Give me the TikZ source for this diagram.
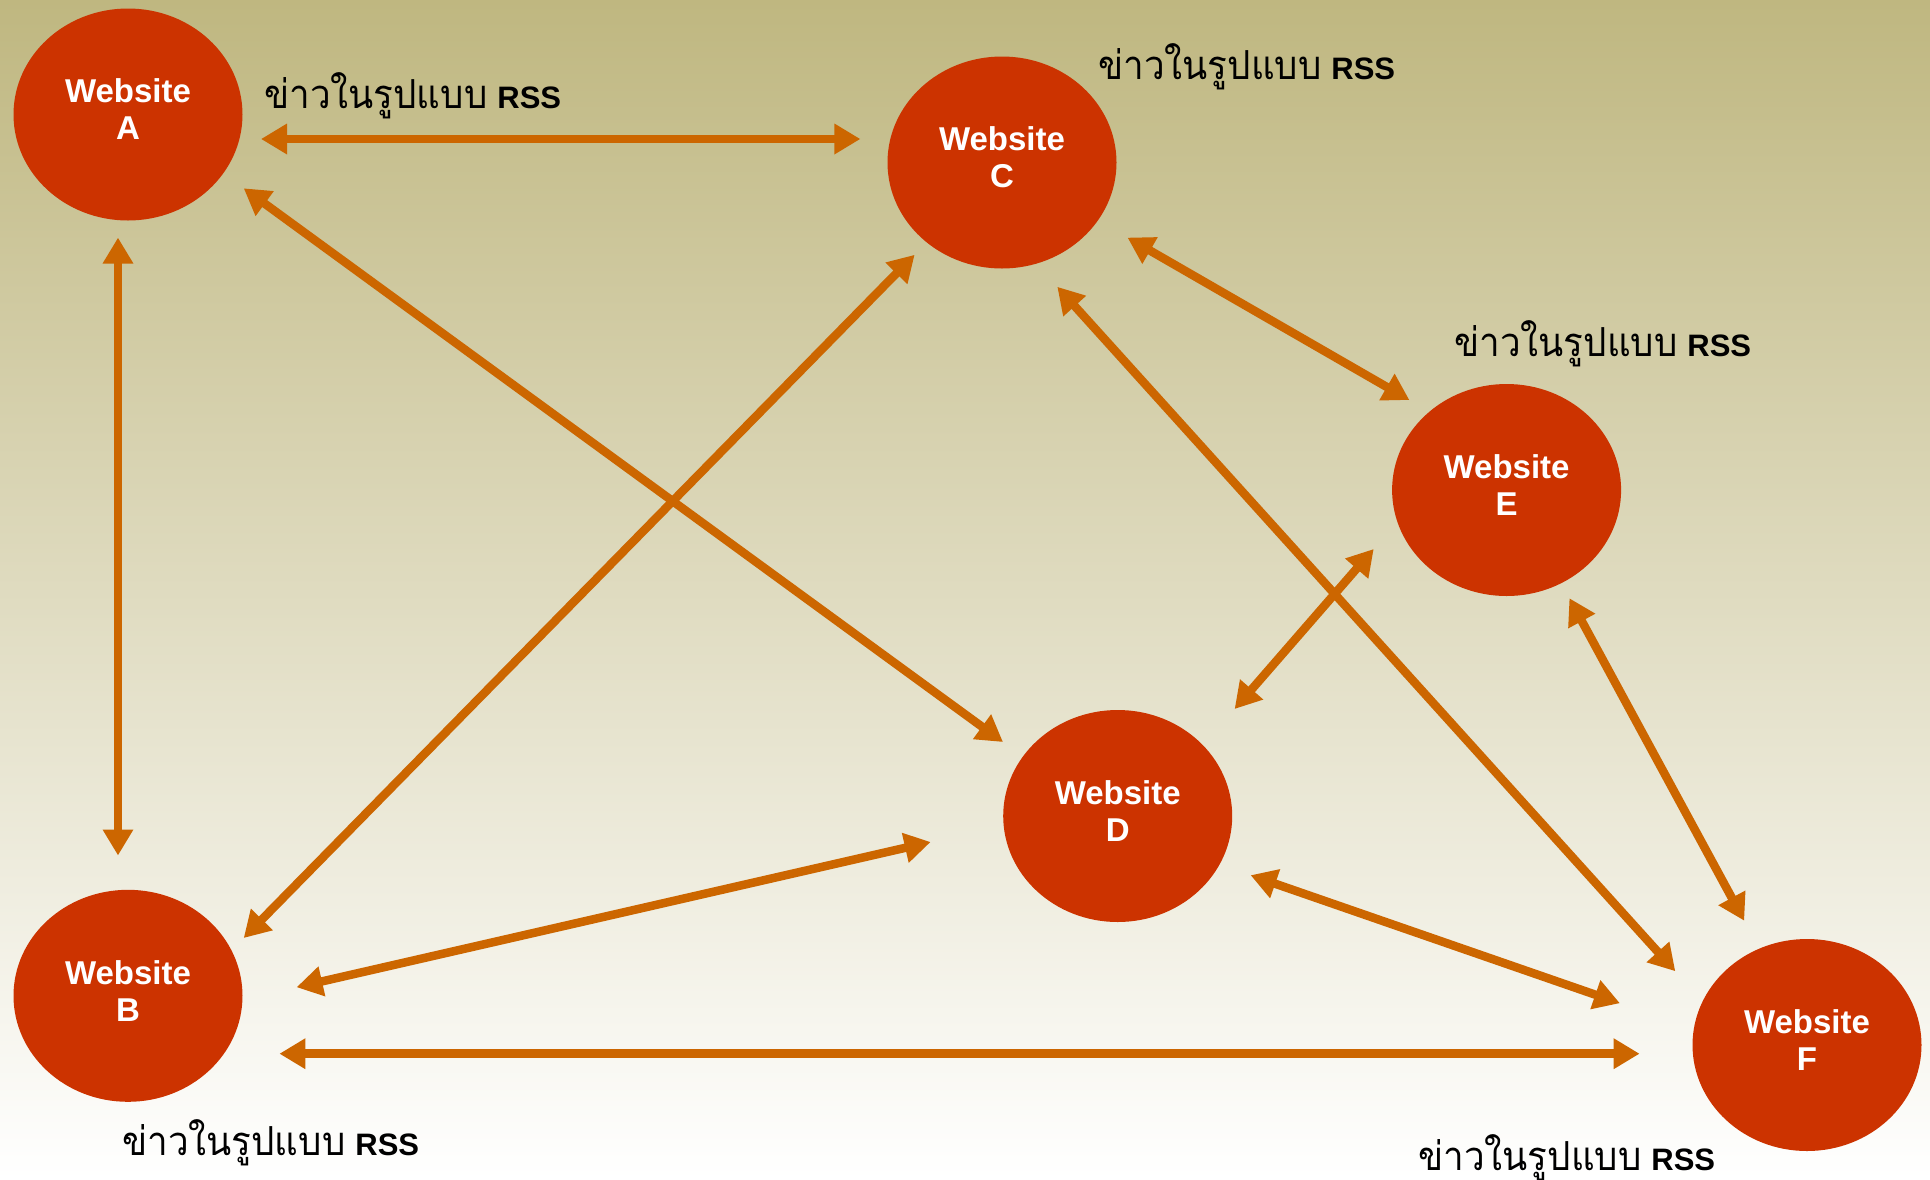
\documentclass[tikz,border=0pt]{standalone}
\usepackage{fontspec}
\setmainfont{Liberation Sans}
\newfontfamily\thaifont[Script=Thai,FakeStretch=0.92]{Loma}
\usetikzlibrary{arrows.meta,shapes.geometric}
\definecolor{sitered}{RGB}{204,51,0}
\definecolor{arrclr}{RGB}{204,102,0}
\definecolor{bgtop}{RGB}{191,183,128}
\definecolor{bgmid}{RGB}{232,228,206}
\newcommand{\rsslabel}{{\thaifont\fontsize{40}{44}\selectfont ข่าวในรูปแบบ}\hspace{10pt}{\bfseries\fontsize{31}{35}\selectfont RSS}}
\begin{document}
\begin{tikzpicture}[x=1pt,y=-1pt,
  site/.style={ellipse, fill=sitered, minimum width=229pt, minimum height=212pt,
    inner sep=0pt, text=white, font=\bfseries\fontsize{33}{37}\selectfont, align=center,
    text depth=10pt},
  link/.style={draw=arrclr, line width=8.5pt,
    {Triangle[length=26pt,width=29pt]}-{Triangle[length=26pt,width=29pt]}},
  rss/.style={anchor=base west, inner sep=0pt, text=black}]
\useasboundingbox (0,0) rectangle (1930,1179);
\shade[top color=bgtop, middle color=bgmid, bottom color=white] (0,0) rectangle (1930,1179);

% websites
\node[site] (A) at (128,114.5) {Website\\A};
\node[site] (C) at (1002,162.5) {Website\\C};
\node[site] (E) at (1506.6,490) {Website\\E};
\node[site] (D) at (1117.7,816) {Website\\D};
\node[site] (B) at (128,995.8) {Website\\B};
\node[site] (F) at (1807,1045) {Website\\F};

% labels
\node[rss] (lA) at (264,108) {\rsslabel};
\node[rss] (lC) at (1098,79) {\rsslabel};
\node[rss] (lE) at (1454,356) {\rsslabel};
\node[rss] (lB) at (122,1155) {\rsslabel};
\node[rss] (lF) at (1418,1170) {\rsslabel};

% connector ends
\coordinate (ac1) at (261,139);   \coordinate (ac2) at (860.4,139);
\coordinate (ab1) at (118,237.6); \coordinate (ab2) at (118,855.5);
\coordinate (ad1) at (243.7,188.3); \coordinate (ad2) at (1003,742);
\coordinate (bc1) at (243.7,938); \coordinate (bc2) at (914.6,254.8);
\coordinate (ce1) at (1127.5,237.6); \coordinate (ce2) at (1409.4,400);
\coordinate (cf1) at (1057.3,286.8); \coordinate (cf2) at (1675.3,971.2);
\coordinate (ed1) at (1373.7,549); \coordinate (ed2) at (1234.6,709);
\coordinate (ef1) at (1569.4,598.2); \coordinate (ef2) at (1744.2,920.7);
\coordinate (db1) at (930.6,842); \coordinate (db2) at (296.6,987.2);
\coordinate (df1) at (1250.6,875.2); \coordinate (df2) at (1619.9,1003.2);
\coordinate (bf1) at (279.4,1053.7); \coordinate (bf2) at (1639.6,1053.7);

\draw[link] (ac1) -- (ac2);
\draw[link] (ab1) -- (ab2);
\draw[link] (ad1) -- (ad2);
\draw[link] (bc1) -- (bc2);
\draw[link] (ce1) -- (ce2);
\draw[link] (cf1) -- (cf2);
\draw[link] (ed1) -- (ed2);
\draw[link] (ef1) -- (ef2);
\draw[link] (db1) -- (db2);
\draw[link] (df1) -- (df2);
\draw[link] (bf1) -- (bf2);
\end{tikzpicture}
\end{document}
